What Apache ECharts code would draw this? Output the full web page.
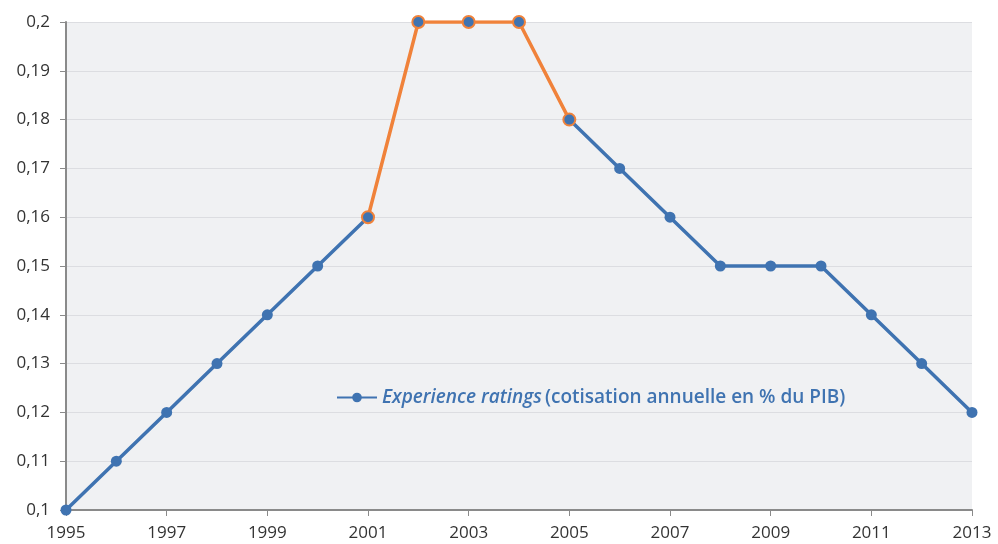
<!DOCTYPE html>
<html>
<head>
<meta charset="utf-8">
<script src="https://cdn.jsdelivr.net/npm/echarts@6/dist/echarts.min.js"></script>
<style>
  html, body { margin: 0; padding: 0; background: #fff; }
  #chart { width: 998px; height: 544px; }
</style>
</head>
<body>
<div id="chart"></div>
<script>
const years = ['1995', '1996', '1997', '1998', '1999', '2000', '2001', '2002', '2003', '2004',
  '2005', '2006', '2007', '2008', '2009', '2010', '2011', '2012', '2013']
const ratings = [0.10, 0.11, 0.12, 0.13, 0.14, 0.15, 0.16, 0.20, 0.20, 0.20,
  0.18, 0.17, 0.16, 0.15, 0.15, 0.15, 0.14, 0.13, 0.12]
// years drawn in orange
const highlight = ['2001', '2002', '2003', '2004', '2005']

const blue = '#3f73b1'
const orange = '#f0823a'
const font = 'Open Sans'

// blue part: leave out the inner orange years so lines don't overlap
const blueData = years.map((y, i) => (highlight.includes(y) && y !== highlight[0] && y !== highlight[highlight.length - 1]) ? null : ratings[i])
const orangeData = years.map((y, i) => highlight.includes(y) ? ratings[i] : null)

const chart = echarts.init(document.getElementById('chart'))
chart.setOption({
  animation: false,
  textStyle: { fontFamily: font },
  grid: {
    left: 66, right: 26, top: 22, bottom: 34,
    show: true, backgroundColor: '#f0f1f3', borderWidth: 0
  },
  legend: {
    data: ['ratings'],
    left: 331, top: 383,
    itemWidth: 40, itemHeight: 12, itemGap: 6,
    formatter: () => '{i|Experience ratings} {n|(cotisation annuelle en % du PIB)}',
    textStyle: {
      rich: {
        i: { fontStyle: 'italic', fontSize: 19, color: blue, fontFamily: font, fontWeight: 600 },
        n: { fontSize: 19, color: blue, fontFamily: font, fontWeight: 600 }
      }
    }
  },
  xAxis: {
    type: 'category',
    data: years,
    boundaryGap: false,
    axisLine: { lineStyle: { color: '#8a8a8a', width: 2 } },
    axisTick: { interval: 1, length: 6, lineStyle: { color: '#8a8a8a' } },
    axisLabel: { interval: 1, fontSize: 17, color: '#333', margin: 15 }
  },
  yAxis: {
    type: 'value',
    min: 0.1, max: 0.2, interval: 0.01,
    axisLine: { show: true, lineStyle: { color: '#8a8a8a', width: 2 } },
    axisTick: { show: true, length: 6, lineStyle: { color: '#8a8a8a' } },
    splitLine: { lineStyle: { color: '#dcdde1' } },
    axisLabel: {
      fontSize: 17, color: '#333', margin: 16,
      formatter: v => String(parseFloat(v.toFixed(2))).replace('.', ',')
    }
  },
  series: [
    {
      name: 'ratings',
      type: 'line',
      data: blueData,
      symbol: 'circle',
      symbolSize: 11,
      lineStyle: { color: blue, width: 3.5 },
      itemStyle: { color: blue }
    },
    {
      name: 'hl',
      type: 'line',
      data: orangeData,
      symbol: 'circle',
      symbolSize: 12,
      lineStyle: { color: orange, width: 3.5 },
      itemStyle: { color: blue, borderColor: orange, borderWidth: 2 },
      z: 3
    }
  ]
})
</script>
</body>
</html>
